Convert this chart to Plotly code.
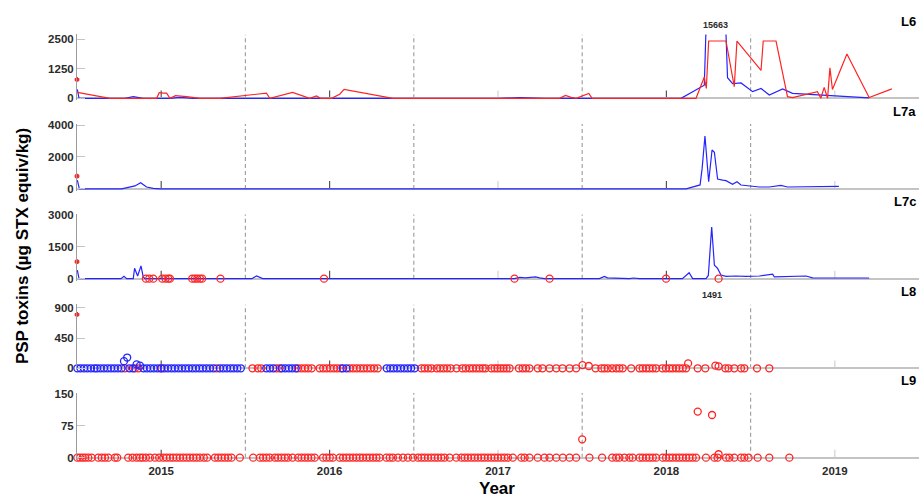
import plotly.graph_objects as go

# ---------------------------------------------------------------------------
# PSP toxin concentrations (µg STX equiv/kg) by sampling date (decimal year)
# ---------------------------------------------------------------------------

# L6 – two sampled species (blue / red lines)
l6_blue_t = [2014.502, 2014.512, 2014.785, 2014.834, 2014.893, 2015.052, 2015.111, 2015.188,
             2017.009, 2017.128, 2017.276, 2017.424, 2017.484, 2017.543, 2018.087, 2018.225,
             2018.290, 2018.363, 2018.393, 2018.443, 2018.512, 2018.562, 2018.611, 2018.690,
             2018.749, 2019.204]
l6_blue_v = [375, 0, 0, 70, 0, 0, 40, 0,
             0, 30, 0, 0, 20, 0, 0, 555,
             15663, 875, 625, 650, 280, 415, 140, 400,
             210, 20]

l6_red_t = [2014.502, 2014.696, 2014.973, 2014.988, 2015.012, 2015.032, 2015.052, 2015.085,
            2015.151, 2015.230, 2015.348, 2015.625, 2015.645, 2015.780, 2015.882, 2015.922,
            2015.946, 2016.011, 2016.060, 2016.086, 2016.376, 2017.365, 2017.401, 2017.434,
            2017.464, 2017.494, 2017.539, 2017.559, 2018.176, 2018.225, 2018.237, 2018.251,
            2018.354, 2018.403, 2018.419, 2018.562, 2018.575, 2018.651, 2018.719, 2018.749,
            2018.897, 2018.917, 2018.937, 2018.957, 2018.971, 2018.986, 2019.072, 2019.204,
            2019.339]
l6_red_v = [250, 0, 0, 235, 220, 220, 0, 110,
            70, 0, 0, 220, 0, 250, 0, 100,
            0, 0, 170, 375, 0, 0, 125, 40,
            0, 95, 208, 0, 0, 900, 415, 2430,
            2430, 490, 2430, 1180, 2430, 2430, 70, 30,
            280, 0, 460, 0, 1290, 375, 1875, 30,
            400]

# L7a
l7a_t = [2014.502, 2014.514, 2014.765, 2014.814, 2014.844, 2014.878, 2014.913, 2014.953,
         2014.992, 2018.117, 2018.156, 2018.186, 2018.200, 2018.212, 2018.229, 2018.251,
         2018.271, 2018.285, 2018.304, 2018.334, 2018.354, 2018.393, 2018.419, 2018.443,
         2018.492, 2018.552, 2018.611, 2018.680, 2018.719, 2018.769, 2019.024]
l7a_v = [550, 0, 0, 120, 185, 390, 120, 30,
         0, 0, 140, 245, 250, 1270, 3320, 450,
         2440, 2300, 615, 550, 520, 285, 450, 245,
         185, 120, 120, 220, 120, 120, 160]

# L7c
l7c_t = [2014.502, 2014.512, 2014.761, 2014.779, 2014.795, 2014.834, 2014.842, 2014.860,
         2014.880, 2014.893, 2014.903, 2015.538, 2015.566, 2015.603, 2017.098, 2017.128,
         2017.163, 2017.223, 2017.247, 2017.276, 2017.602, 2017.632, 2017.650, 2017.780,
         2017.804, 2017.840, 2018.095, 2018.117, 2018.135, 2018.156, 2018.235, 2018.249,
         2018.269, 2018.285, 2018.304, 2018.324, 2018.354, 2018.413, 2018.472, 2018.552,
         2018.631, 2018.641, 2018.829, 2018.868, 2019.204]
l7c_v = [400, 0, 0, 110, 0, 0, 490, 125,
         600, 90, 0, 0, 125, 0, 0, 60,
         40, 80, 40, 0, 0, 100, 40, 0,
         30, 0, 0, 170, 280, 0, 0, 150,
         2430, 630, 480, 170, 110, 125, 110, 125,
         215, 80, 125, 40, 30]

# L7c – second species, discrete samples
l7c_red_t = [2014.909, 2014.929, 2014.953, 2015.006, 2015.026, 2015.042, 2015.052, 2015.184,
             2015.200, 2015.214, 2015.230, 2015.243, 2015.352, 2015.967, 2017.098, 2017.306,
             2017.998, 2018.310]
l7c_red_v = [0, 0, 0, 0, 0, 0, 0, 0,
             0, 0, 0, 0, 0, 0, 0, 0,
             0, 0]

# L8 – discrete samples of both species
l8_blue_t = [2014.502, 2014.521, 2014.542, 2014.562, 2014.583, 2014.604, 2014.619, 2014.639, 2014.660, 2014.681,
             2014.702, 2014.722, 2014.743, 2014.764, 2014.779, 2014.798, 2014.811, 2014.832, 2014.854, 2014.874,
             2014.894, 2014.915, 2014.936, 2014.957, 2014.978, 2014.998, 2015.019, 2015.040, 2015.061, 2015.081,
             2015.102, 2015.123, 2015.144, 2015.164, 2015.185, 2015.206, 2015.227, 2015.247, 2015.268, 2015.289,
             2015.310, 2015.348, 2015.369, 2015.390, 2015.411, 2015.431, 2015.452, 2015.473, 2015.624, 2015.645,
             2015.666, 2015.716, 2015.737, 2015.758, 2015.778, 2015.799, 2016.078, 2016.100, 2016.339, 2016.360,
             2016.380, 2016.401, 2016.422, 2016.443, 2016.464, 2016.484, 2016.505]
l8_blue_v = [0, 0, 0, 0, 0, 0, 0, 0, 0, 0,
             0, 0, 0, 0, 106, 160, 0, 0, 58, 39,
             0, 0, 0, 0, 0, 0, 0, 0, 0, 0,
             0, 0, 0, 0, 0, 0, 0, 0, 0, 0,
             0, 0, 0, 0, 0, 0, 0, 0, 0, 0,
             0, 0, 0, 0, 0, 0, 0, 0, 0, 0,
             0, 0, 0, 0, 0, 0, 0]

l8_red_t = [2014.785, 2014.844, 2014.865, 2015.002, 2015.329, 2015.542, 2015.574, 2015.594, 2015.685, 2015.704,
            2015.811, 2015.832, 2015.853, 2015.873, 2015.894, 2015.941, 2015.962, 2015.983, 2016.004, 2016.025,
            2016.045, 2016.066, 2016.119, 2016.140, 2016.161, 2016.182, 2016.202, 2016.223, 2016.244, 2016.265,
            2016.286, 2016.545, 2016.564, 2016.585, 2016.606, 2016.636, 2016.656, 2016.677, 2016.698, 2016.719,
            2016.754, 2016.788, 2016.808, 2016.831, 2016.851, 2016.871, 2016.891, 2016.910, 2016.926, 2016.960,
            2016.980, 2016.997, 2017.015, 2017.033, 2017.051, 2017.069, 2017.124, 2017.146, 2017.166, 2017.187,
            2017.236, 2017.264, 2017.306, 2017.346, 2017.383, 2017.425, 2017.464, 2017.502, 2017.539, 2017.579,
            2017.614, 2017.632, 2017.652, 2017.678, 2017.702, 2017.721, 2017.741, 2017.791, 2017.840, 2017.859,
            2017.880, 2017.899, 2017.919, 2017.939, 2017.976, 2017.997, 2018.018, 2018.037, 2018.058, 2018.077,
            2018.097, 2018.117, 2018.129, 2018.186, 2018.231, 2018.270, 2018.291, 2018.310, 2018.350, 2018.369,
            2018.403, 2018.443, 2018.463, 2018.538, 2018.611]
l8_red_v = [0, 0, 0, 0, 0, 0, 0, 0, 0, 0,
            0, 0, 0, 0, 0, 0, 0, 0, 0, 0,
            0, 0, 0, 0, 0, 0, 0, 0, 0, 0,
            0, 0, 0, 0, 0, 0, 0, 0, 0, 0,
            0, 0, 0, 0, 0, 0, 0, 0, 0, 0,
            0, 0, 0, 0, 0, 0, 0, 0, 0, 0,
            0, 0, 0, 0, 0, 0, 0, 48, 34, 0,
            0, 0, 0, 0, 0, 0, 0, 0, 0, 0,
            0, 0, 0, 0, 0, 0, 0, 0, 0, 0,
            0, 0, 73, 0, 0, 1491, 39, 29, 0, 0,
            0, 0, 0, 0, 0]

# L9 – discrete samples
l9_t = [2014.502, 2014.518, 2014.534, 2014.549, 2014.567, 2014.587, 2014.626, 2014.647, 2014.666, 2014.686,
        2014.725, 2014.739, 2014.804, 2014.830, 2014.854, 2014.874, 2014.890, 2014.909, 2014.933, 2014.963,
        2014.988, 2015.012, 2015.032, 2015.052, 2015.071, 2015.091, 2015.111, 2015.131, 2015.151, 2015.170,
        2015.190, 2015.210, 2015.230, 2015.253, 2015.273, 2015.319, 2015.338, 2015.358, 2015.378, 2015.398,
        2015.418, 2015.467, 2015.546, 2015.586, 2015.605, 2015.625, 2015.645, 2015.675, 2015.694, 2015.714,
        2015.734, 2015.753, 2015.780, 2015.813, 2015.833, 2015.853, 2015.872, 2015.892, 2015.912, 2015.961,
        2015.981, 2016.001, 2016.020, 2016.060, 2016.080, 2016.100, 2016.119, 2016.139, 2016.159, 2016.179,
        2016.198, 2016.219, 2016.238, 2016.258, 2016.278, 2016.297, 2016.337, 2016.357, 2016.376, 2016.406,
        2016.436, 2016.465, 2016.495, 2016.525, 2016.545, 2016.564, 2016.584, 2016.604, 2016.624, 2016.643,
        2016.663, 2016.683, 2016.713, 2016.752, 2016.782, 2016.802, 2016.821, 2016.841, 2016.861, 2016.881,
        2016.901, 2016.920, 2016.940, 2016.960, 2016.980, 2016.999, 2017.019, 2017.039, 2017.059, 2017.088,
        2017.138, 2017.158, 2017.187, 2017.236, 2017.276, 2017.306, 2017.346, 2017.385, 2017.425, 2017.464,
        2017.500, 2017.543, 2017.618, 2017.678, 2017.702, 2017.721, 2017.751, 2017.780, 2017.800, 2017.840,
        2017.859, 2017.880, 2017.899, 2017.919, 2017.939, 2017.978, 2017.998, 2018.018, 2018.037, 2018.058,
        2018.077, 2018.097, 2018.117, 2018.136, 2018.156, 2018.176, 2018.186, 2018.235, 2018.271, 2018.285,
        2018.304, 2018.310, 2018.354, 2018.374, 2018.403, 2018.443, 2018.463, 2018.488, 2018.542, 2018.611,
        2018.730]
l9_v = [0, 0, 0, 0, 0, 0, 0, 0, 0, 0,
        0, 0, 0, 0, 0, 0, 0, 0, 0, 0,
        0, 0, 0, 0, 0, 0, 0, 0, 0, 0,
        0, 0, 0, 0, 0, 0, 0, 0, 0, 0,
        0, 0, 0, 0, 0, 0, 0, 0, 0, 0,
        0, 0, 0, 0, 0, 0, 0, 0, 0, 0,
        0, 0, 0, 0, 0, 0, 0, 0, 0, 0,
        0, 0, 0, 0, 0, 0, 0, 0, 0, 0,
        0, 0, 0, 0, 0, 0, 0, 0, 0, 0,
        0, 0, 0, 0, 0, 0, 0, 0, 0, 0,
        0, 0, 0, 0, 0, 0, 0, 0, 0, 0,
        0, 0, 0, 0, 0, 0, 0, 0, 0, 0,
        43, 0, 0, 0, 0, 0, 0, 0, 0, 0,
        0, 0, 0, 0, 0, 0, 0, 0, 0, 0,
        0, 0, 0, 0, 0, 0, 108, 0, 100, 0,
        0, 8, 0, 0, 0, 0, 0, 0, 0, 0,
        0]

# regulatory action limit, marked on the y axis of each panel it fits in
regulatory_limit = 800
regulatory_t = 2014.5

panel_names = ["L6", "L7a", "L7c", "L8", "L9"]
y_tickvals = [[0, 1250, 2500], [0, 2000, 4000], [0, 1500, 3000], [0, 450, 900], [0, 75, 150]]
year_ticks = [2015, 2016, 2017, 2018, 2019]
year_labels = ["2015", "2016", "2017", "2018", "2019"]
mid_year_lines = [2015.5, 2016.5, 2017.5, 2018.5]

# ---------------------------------------------------------------------------
# layout constants
# ---------------------------------------------------------------------------
W, H = 919, 497
ML = 77
PANEL_PX = [(30, 95), (121, 187.3), (213, 278.7), (305, 370), (395, 461)]  # top / zero
YMAX = [2708, 4080, 3032, 948, 152]
PAD = 2
X_RANGE = [2014.5, 2019.5]

BLUE = "#2424ff"
RED = "#ff2424"
TXT = "#2b2b2b"
FONT = "Liberation Sans"
YEAR_TICK_COLORS = ["#555555", "#555555", "#d2d2d2", "#555555", "#d2d2d2"]

fig = go.Figure()


def suffix(i):
    return "" if i == 0 else str(i + 1)


def line_trace(i, t, v, color):
    s = suffix(i)
    fig.add_trace(go.Scatter(x=t, y=v, mode="lines", xaxis="x" + s, yaxis="y" + s,
                             line=dict(color=color, width=1.2), cliponaxis=True,
                             showlegend=False, hoverinfo="x+y"))


def circle_trace(i, t, v, color):
    s = suffix(i)
    ymax = YMAX[i]
    inside = [(a, b) for a, b in zip(t, v) if b <= ymax]
    beyond = [(a, b) for a, b in zip(t, v) if b > ymax]
    for pts, clip in ((inside, False), (beyond, True)):
        if not pts:
            continue
        fig.add_trace(go.Scatter(x=[p[0] for p in pts], y=[p[1] for p in pts], mode="markers",
                                 xaxis="x" + s, yaxis="y" + s, cliponaxis=clip,
                                 marker=dict(symbol="circle-open", size=7, color=color,
                                             line=dict(color=color, width=1.3)),
                                 showlegend=False, hoverinfo="x+y"))


def limit_marker(i):
    s = suffix(i)
    fig.add_trace(go.Scatter(x=[regulatory_t], y=[regulatory_limit], mode="markers",
                             xaxis="x" + s, yaxis="y" + s, cliponaxis=False,
                             marker=dict(symbol="asterisk-open", size=4, color=RED,
                                         line=dict(color=RED, width=2)),
                             showlegend=False, hoverinfo="y"))


def offscale_label(i, t, v):
    s = suffix(i)
    for a, b in zip(t, v):
        if b > YMAX[i]:
            annotations.append(dict(x=a, y=1, xref="x" + s, yref="y" + s + " domain",
                                    text=f"{b:.0f}", showarrow=False, xanchor="center",
                                    yanchor="bottom", yshift=2,
                                    font=dict(family=FONT, size=9, color=TXT, weight="bold")))


annotations = []
shapes = []

# panel contents
line_trace(0, l6_blue_t, l6_blue_v, BLUE)
line_trace(0, l6_red_t, l6_red_v, RED)
offscale_label(0, l6_blue_t, l6_blue_v)

line_trace(1, l7a_t, l7a_v, BLUE)

line_trace(2, l7c_t, l7c_v, BLUE)
circle_trace(2, l7c_red_t, l7c_red_v, RED)

circle_trace(3, l8_red_t, l8_red_v, RED)
circle_trace(3, l8_blue_t, l8_blue_v, BLUE)
offscale_label(3, l8_red_t, l8_red_v)

circle_trace(4, l9_t, l9_v, RED)

for i in range(4):
    limit_marker(i)

# axes, guide lines and panel labels
layout_axes = {}
for i in range(5):
    s = suffix(i)
    top, zero = PANEL_PX[i]
    span = zero - top
    ymax = YMAX[i]
    lo = -PAD * ymax / span
    dom = [1 - (zero + PAD) / H, 1 - top / H]

    layout_axes["xaxis" + s] = dict(
        domain=[0, 1], anchor="y" + s, range=X_RANGE, showgrid=False, zeroline=False,
        showline=False, ticks="", tickvals=year_ticks, ticktext=year_labels,
        showticklabels=(i == 4), ticklabelstandoff=3,
        tickfont=dict(family=FONT, size=11.5, color=TXT, weight="bold"),
        matches=None if i == 0 else "x")
    layout_axes["yaxis" + s] = dict(
        domain=dom, anchor="x" + s, range=[lo, ymax], tickvals=y_tickvals[i],
        ticks="inside", ticklen=8, tickwidth=1, tickcolor="#c4c4c4",
        showline=True, linecolor="#9c9c9c", linewidth=1, showgrid=False,
        zeroline=True, zerolinecolor="#c4c4c4", zerolinewidth=1.6,
        tickfont=dict(family=FONT, size=11.5, color=TXT, weight="bold"))

    for xv in mid_year_lines:
        shapes.append(dict(type="line", xref="x" + s, yref="y" + s, x0=xv, x1=xv, y0=0, y1=ymax,
                           line=dict(color="#a2a2a2", width=1.2, dash="4px,3px"), layer="below"))

    tick_h = 8 * ymax / span
    for xv, col in zip(year_ticks, YEAR_TICK_COLORS):
        shapes.append(dict(type="line", xref="x" + s, yref="y" + s, x0=xv, x1=xv, y0=0, y1=tick_h,
                           line=dict(color=col, width=1.2), layer="below"))

    annotations.append(dict(x=1, y=1, xref="paper", yref="y" + s + " domain", text=panel_names[i],
                            showarrow=False, xanchor="right", yanchor="bottom", yshift=3, xshift=-1,
                            font=dict(family=FONT, size=13, color="#000000", weight="bold")))

plot_w = W - ML
annotations.append(dict(x=(22 - ML) / plot_w, y=1 - 245.5 / H, xref="paper", yref="paper",
                        text="PSP toxins (µg STX equiv/kg)", textangle=-90, showarrow=False,
                        xanchor="center", yanchor="middle",
                        font=dict(family=FONT, size=17, color="#000000", weight="bold")))
annotations.append(dict(x=(497 - ML) / plot_w, y=1 - 492.5 / H, xref="paper", yref="paper",
                        text="Year", showarrow=False, xanchor="center", yanchor="middle",
                        font=dict(family=FONT, size=17, color="#000000", weight="bold")))

fig.update_layout(
    width=W, height=H,
    margin=dict(l=ML, r=0, t=0, b=0),
    paper_bgcolor="white", plot_bgcolor="white",
    shapes=shapes, annotations=annotations,
    **layout_axes,
)

fig.write_html("out.html")
